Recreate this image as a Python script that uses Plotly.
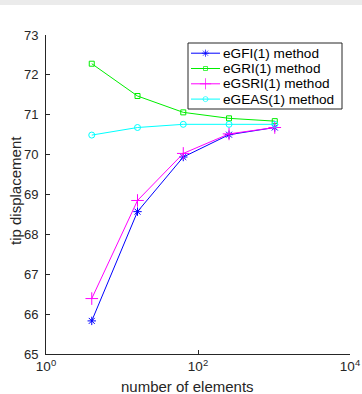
import plotly.graph_objects as go

elements = [4, 16, 64, 256, 1024]
egfi = [65.83, 68.57, 69.94, 70.50, 70.68]
egri = [72.28, 71.47, 71.06, 70.91, 70.84]
egsri = [66.39, 68.85, 70.03, 70.52, 70.68]
egeas = [70.49, 70.68, 70.76, 70.76, 70.76]

series_names = ["eGFI(1) method", "eGRI(1) method", "eGSRI(1) method", "eGEAS(1) method"]
series_values = [egfi, egri, egsri, egeas]

x_tickvals = [1, 100, 10000]
x_ticktext = ["10<sup>0</sup>", "10<sup>2</sup>", "10<sup>4</sup>"]
y_tickvals = [65, 66, 67, 68, 69, 70, 71, 72, 73]

FONT = "Liberation Sans, Arial, sans-serif"
AX = "#262626"

styles = [
    ("#0000ff", "asterisk-open", 7),
    ("#00ee00", "square-open", 5),
    ("#ff00ff", "cross-thin-open", 9),
    ("#00ffff", "circle-open", 6),
]

W, H = 362, 394
L, R, T, B = 46, 12, 35, 40
pw = W - L - R
ph = H - T - B


def px(x):
    return (x - L) / pw


def py(y):
    return (H - B - y) / ph


fig = go.Figure()
for name, vals, (color, sym, size) in zip(series_names, series_values, styles):
    fig.add_trace(go.Scatter(
        x=elements, y=vals, name=name, mode="lines+markers",
        line=dict(color=color, width=1),
        marker=dict(symbol=sym, size=size, color=color, line=dict(color=color, width=1)),
        showlegend=False,
    ))

# manual legend, drawn in pixel coordinates on an overlay axis
box_x0, box_x1, box_y0, box_y1 = 188, 342, 43, 109
row_y = [53.2, 68.5, 83.8, 99.1]
line_x0, line_x1 = 191, 220
shapes = [dict(
    type="rect", xref="paper", yref="paper",
    x0=px(0), x1=px(W), y0=py(5), y1=py(0),
    fillcolor="#ebebeb", line=dict(width=0), layer="below",
), dict(
    type="rect", xref="x2", yref="y2",
    x0=box_x0, x1=box_x1, y0=box_y0, y1=box_y1,
    fillcolor="white", line=dict(color=AX, width=1), layer="below",
)]
annotations = []
for i, (name, (color, sym, size)) in enumerate(zip(series_names, styles)):
    ry = row_y[i]
    fig.add_trace(go.Scatter(
        x=[line_x0, (line_x0 + line_x1) / 2, line_x1], y=[ry, ry, ry],
        mode="lines+markers", xaxis="x2", yaxis="y2",
        showlegend=False, hoverinfo="skip", cliponaxis=False,
        line=dict(color=color, width=1),
        marker=dict(symbol=sym, size=[0, size - 1, 0], color=color,
                    line=dict(color=color, width=1)),
    ))
    annotations.append(dict(
        x=px(line_x1 + 1), y=py(ry), xref="paper", yref="paper", text=name,
        showarrow=False, xanchor="left", yanchor="middle",
        font=dict(family=FONT, size=13.6, color="#000000"),
    ))

annotations.append(dict(
    x=px(187), y=py(386), xref="paper", yref="paper", text="number of elements",
    showarrow=False, xanchor="center", yanchor="middle",
    font=dict(family=FONT, size=15, color=AX),
))
annotations.append(dict(
    x=px(15), y=py(191), xref="paper", yref="paper", text="tip displacement",
    showarrow=False, xanchor="center", yanchor="middle", textangle=-90,
    font=dict(family=FONT, size=15, color=AX),
))

fig.update_layout(
    width=W, height=H,
    margin=dict(l=L, r=R, t=T, b=B),
    paper_bgcolor="white", plot_bgcolor="white",
    font=dict(family=FONT, size=13, color=AX),
    showlegend=False,
    xaxis=dict(
        type="log", range=[0, 4],
        tickvals=x_tickvals, ticktext=x_ticktext,
        ticks="inside", ticklen=4, tickcolor=AX,
        showline=True, linecolor=AX, linewidth=1,
        showgrid=False, zeroline=False, mirror=False,
        tickfont=dict(size=13.5), automargin=False,
    ),
    yaxis=dict(
        range=[65, 73], tickvals=y_tickvals,
        ticks="inside", ticklen=4, tickcolor=AX,
        showline=True, linecolor=AX, linewidth=1,
        showgrid=False, zeroline=False, mirror=False,
        tickfont=dict(size=13), automargin=False, ticklabelstandoff=4,
    ),
    xaxis2=dict(overlaying="x", range=[L, W - R], visible=False, fixedrange=True),
    yaxis2=dict(overlaying="y", range=[H - B, T], visible=False, fixedrange=True),
    shapes=shapes,
    annotations=annotations,
)

fig.write_html(
    "out.html",
    config={"displayModeBar": False},
    post_script="document.body.style.margin='0';document.body.style.overflow='hidden';",
)
